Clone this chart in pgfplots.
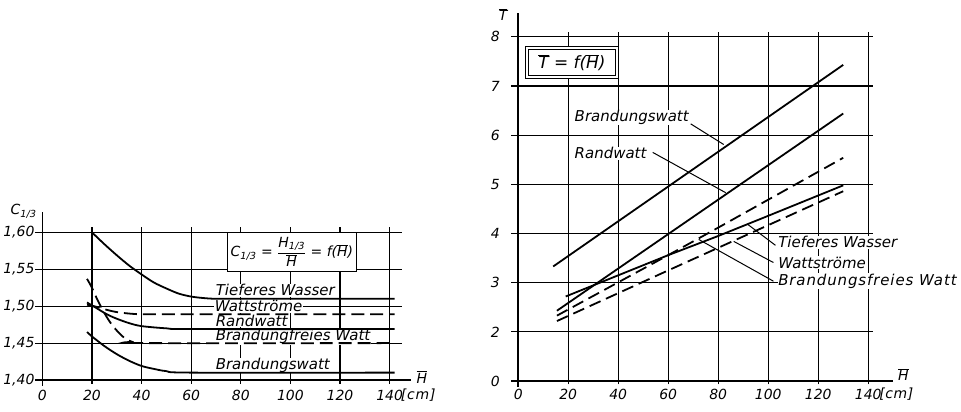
\documentclass[border=0pt]{standalone}
\usepackage{fontspec}
\setmainfont{DejaVu Sans}
\usepackage{pgfplots}
\pgfplotsset{compat=1.18}
\newcommand{\bH}{$\overline{\mbox{H}}$}
\newcommand{\bT}{$\overline{\mbox{T}}$}
\begin{document}
\begin{tikzpicture}
\path (0pt,0pt) rectangle (961pt,413pt);
\tikzset{
  curve/.style={black, line width=1.8pt},
  lbl/.style={font=\itshape\fontsize{15}{15}\selectfont, inner sep=0.6pt, fill=white},
}
\pgfplotsset{
  every axis/.append style={scale only axis, anchor=south west, clip=false,
    axis line style={draw=none}, major tick length=0pt, grid=major,
    major grid style={black,line width=1.1pt},
    tick label style={font=\itshape\fontsize{14}{14}\selectfont},
  },
}
% ---------------- left panel ----------------
\begin{axis}[at={(32.5pt,28.3pt)}, width=368pt, height=156.9pt,
  xmin=-3, xmax=145, ymin=1.395, ymax=1.607,
  xtick={0,20,...,140}, xticklabels={0,20,40,60,80,100,120,140},
  ytick={1.40,1.45,1.50,1.55,1.60},
  yticklabels={{1,40},{1,45},{1,50},{1,55},{1,60}},
  xticklabel style={yshift=-3pt}, yticklabel style={xshift=3pt}]
\node[lbl, anchor=base west] at (axis cs:69.6,1.5139) {Tieferes Wasser};
\node[lbl, anchor=base west] at (axis cs:69.2,1.4923) {Wattströme};
\node[lbl, anchor=base west] at (axis cs:69.6,1.4723) {Randwatt};
\node[lbl, anchor=base west] at (axis cs:69.6,1.4531) {Brandungfreies Watt};
\node[lbl, anchor=base west] at (axis cs:69.6,1.4139) {Brandungswatt};
\node[draw, line width=1.1pt, fill=white, minimum width=126pt, minimum height=39pt,
  font=\itshape\fontsize{14}{14}\selectfont] at (axis cs:100.6,1.5736)
  {C\textsubscript{1/3} = $\displaystyle\frac{\mbox{H\textsubscript{1/3}}}{\overline{\mbox{H}}}$ = f(\bH)};
% Tieferes Wasser
\addplot[curve, no markers, smooth] coordinates {(20,1.600) (25,1.584) (30,1.569) (35,1.555) (40,1.543) (45,1.532) (50,1.524) (55,1.517) (60,1.513) (65,1.511) (70,1.510) (80,1.510) (142,1.510)};
% Wattstroeme
\addplot[curve, no markers, smooth, dash pattern=on 13pt off 6pt] coordinates {(18,1.502) (22,1.499) (26,1.495) (30,1.492) (35,1.490) (40,1.489) (50,1.489) (142,1.489)};
% Randwatt
\addplot[curve, no markers, smooth] coordinates {(18,1.505) (22,1.497) (26,1.489) (30,1.483) (35,1.477) (40,1.473) (50,1.470) (60,1.469) (142,1.469)};
% Brandungfreies Watt
\addplot[curve, no markers, smooth, dash pattern=on 13pt off 6pt] coordinates {(18,1.537) (20,1.525) (22,1.510) (24,1.497) (26,1.485) (28,1.475) (30,1.467) (32,1.460) (34,1.455) (36,1.452) (40,1.450) (142,1.450)};
% Brandungswatt
\addplot[curve, no markers, smooth] coordinates {(18,1.465) (20,1.459) (25,1.446) (30,1.435) (35,1.426) (40,1.419) (45,1.415) (50,1.412) (60,1.410) (142,1.410)};
\draw[line width=1.5pt] (axis cs:0,1.392) -- (axis cs:0,1.627);
\draw[line width=1.5pt] (axis cs:-2.8,1.40) -- (axis cs:148.8,1.40);
\node[font=\itshape\fontsize{14}{14}\selectfont] at (axis cs:-7.6,1.6284) {C\textsubscript{1/3}};
\node[font=\itshape\fontsize{14}{14}\selectfont, anchor=west] at (axis cs:149.5,1.404) {\bH};
\node[font=\itshape\fontsize{14}{14}\selectfont\addfontfeature{LetterSpace=6}, anchor=west, inner sep=0pt] at (axis cs:144.5,1.3790) {[cm]};
\end{axis}
% ---------------- right panel ----------------
\begin{axis}[at={(510pt,27.5pt)}, width=363pt, height=353.5pt,
  xmin=-2.8, xmax=142, ymin=0.93, ymax=8.10,
  xtick={0,20,...,140}, xticklabels={0,20,40,60,80,100,120,140},
  ytick={1,2,3,4,5,6,7,8}, yticklabels={0,2,3,4,5,6,7,8},
  xticklabel style={yshift=-1pt}, yticklabel style={xshift=-8pt}]
\node[lbl, anchor=west] at (axis cs:22.3,6.36) {Brandungswatt};
\node[lbl, anchor=west] at (axis cs:22.3,5.63) {Randwatt};
\node[lbl, anchor=west] at (axis cs:103.7,3.82) {Tieferes Wasser};
\node[lbl, anchor=west] at (axis cs:103.7,3.41) {Wattströme};
\node[lbl, anchor=west, font=\itshape\fontsize{15}{15}\selectfont\addfontfeature{LetterSpace=6}] at (axis cs:103.7,3.03) {Brandungsfreies Watt};
\node[draw, double, double distance=1.5pt, line width=1pt, fill=white,
  minimum width=90pt, minimum height=29pt,
  font=\itshape\fontsize{17}{17}\selectfont] at (axis cs:21.5,7.48) {\bT\ = f(\bH)};
% Brandungswatt
\addplot[curve, no markers] coordinates {(14,3.33) (130,7.43)};
% Randwatt
\addplot[curve, no markers] coordinates {(15.5,2.43) (130,6.44)};
% Wattstroeme
\addplot[curve, no markers, dash pattern=on 12pt off 6pt] coordinates {(15.5,2.33) (60,3.56) (80,4.12) (130,5.54)};
% Tieferes Wasser
\addplot[curve, no markers] coordinates {(19,2.72) (40,3.15) (60,3.56) (80,3.95) (100,4.36) (130,4.98)};
% Brandungsfreies Watt
\addplot[curve, no markers, dash pattern=on 12pt off 6pt] coordinates {(15.5,2.22) (60,3.25) (100,4.17) (130,4.86)};
% leaders
\draw[line width=1pt] (axis cs:69.0,6.23) -- (axis cs:82.2,5.81);
\draw[line width=1pt] (axis cs:53.8,5.65) -- (axis cs:83.0,4.83);
\draw[line width=1pt] (axis cs:102.9,3.76) -- (axis cs:91.7,4.19);
\draw[line width=1pt] (axis cs:102.1,3.41) -- (axis cs:86.2,3.84);
\draw[line width=1pt] (axis cs:102.1,3.03) -- (axis cs:72.2,3.88);
\draw[line width=1.5pt] (axis cs:0,0.88) -- (axis cs:0,8.49);
\draw[line width=1.5pt] (axis cs:-2.8,1) -- (axis cs:150,1);
\node[font=\itshape\fontsize{14}{14}\selectfont] at (axis cs:-6,8.45) {\bT};
\node[font=\itshape\fontsize{14}{14}\selectfont, anchor=west] at (axis cs:150.5,1.13) {\bH};
\node[font=\itshape\fontsize{14}{14}\selectfont\addfontfeature{LetterSpace=4}, anchor=west, inner sep=0pt] at (axis cs:144.4,0.74) {[cm]};
\end{axis}
\end{tikzpicture}
\end{document}
